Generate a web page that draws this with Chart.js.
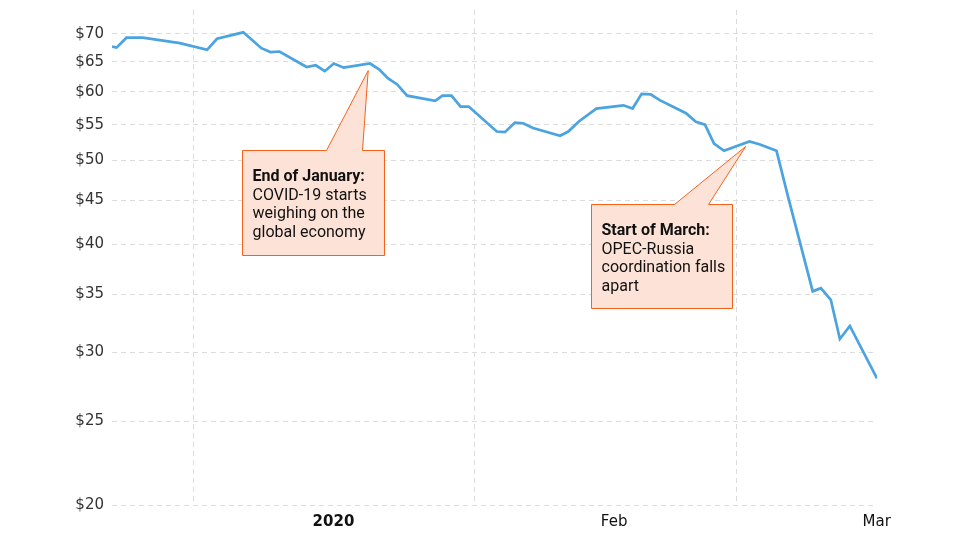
<!DOCTYPE html>
<html>
<head>
<meta charset="utf-8">
<script src="https://cdn.jsdelivr.net/npm/chart.js@4/dist/chart.umd.min.js"></script>
<style>
body { margin: 0; background: #fff; }
canvas { display: block; }
</style>
</head>
<body>
<canvas id="grafico" width="960" height="540"></canvas>
<script>
// ======================================
// Data (days since 1 Jan 2020, price in $)
// ======================================

const days = [
-9.0, -8.5, -7.4, -5.6, -1.5, 1.5, 2.6, 5.5, 7.5, 8.5,
9.5, 12.5, 13.5, 14.5, 15.5, 16.6, 19.5, 20.5, 21.5, 22.5,
23.6, 26.7, 27.5, 28.5, 29.5, 30.4, 33.5, 34.4, 35.5, 36.4,
37.5, 40.5, 41.4, 42.6, 44.5, 47.5, 48.5, 49.5, 50.5, 51.5,
54.4, 55.5, 56.5, 57.5, 58.6, 61.4, 62.5, 64.4, 65.7, 68.4,
69.3, 70.4, 71.4, 72.5, 75.5
];

const prices = [
67.7, 67.5, 69.3, 69.3, 68.3, 67.1, 69.1, 70.3, 67.4, 66.7,
66.8, 64.1, 64.4, 63.4, 64.7, 64.0, 64.7, 63.7, 62.2, 61.2,
59.4, 58.6, 59.4, 59.4, 57.7, 57.7, 54.0, 53.9, 55.3, 55.2,
54.5, 53.4, 54.0, 55.5, 57.4, 57.9, 57.4, 59.7, 59.6, 58.7,
56.7, 55.4, 55.0, 52.3, 51.3, 52.6, 52.2, 51.3, 45.3, 35.3,
35.6, 34.5, 31.1, 32.2, 28.0
];

const monthStarts = [0, 31, 60];
const monthLabels = ["2020", "Feb", "Mar"];

const priceTicks = [20, 25, 30, 35, 40, 45, 50, 55, 60, 65, 70];

// callouts: where the pointer touches the line
const notes = [
{
    x: 19.3, y: 63.5,
    title: "End of January:",
    lines: ["COVID-19 starts", "weighing on the", "global economy"],
    box: { dx: -126, dy: 79, w: 142, h: 105, baseL: 84, baseR: 120 }
},
{
    x: 61.0, y: 51.9,
    title: "Start of March:",
    lines: ["OPEC-Russia", "coordination falls", "apart"],
    box: { dx: -155, dy: 58, w: 141, h: 104, baseL: 83, baseR: 117 }
}
];


// ======================================
// Callout plugin
// ======================================

const callouts = {
    id: "callouts",
    afterDatasetsDraw(chart) {
        const ctx = chart.ctx;
        const xs = chart.scales.x;
        const ys = chart.scales.y;

        notes.forEach(n => {
            const tx = xs.getPixelForValue(n.x);
            const ty = ys.getPixelForValue(n.y);
            const b = n.box;
            const left = Math.round(tx + b.dx) + 0.5;
            const top = Math.round(ty + b.dy) + 0.5;

            ctx.save();
            ctx.beginPath();
            ctx.moveTo(left, top);
            ctx.lineTo(left + b.baseL, top);
            ctx.lineTo(tx, ty);
            ctx.lineTo(left + b.baseR, top);
            ctx.lineTo(left + b.w, top);
            ctx.lineTo(left + b.w, top + b.h);
            ctx.lineTo(left, top + b.h);
            ctx.closePath();
            ctx.fillStyle = "#fde3d7";
            ctx.fill();
            ctx.strokeStyle = "#f4621c";
            ctx.lineWidth = 1;
            ctx.stroke();

            ctx.fillStyle = "#111";
            ctx.textBaseline = "alphabetic";
            ctx.textAlign = "left";
            let ly = top + 30.5;
            ctx.font = "bold 16px Roboto";
            ctx.fillText(n.title, left + 10, ly);
            ctx.font = "16px Roboto";
            n.lines.forEach(l => {
                ly += 18.7;
                ctx.fillText(l, left + 10, ly);
            });
            ctx.restore();
        });
    }
};


// ======================================
// Chart
// ======================================

const points = days.map((d, i) => ({ x: d, y: prices[i] }));

new Chart(document.getElementById("grafico"), {

type: "line",

data: {
    datasets: [{
        label: "Price",
        data: points,
        borderColor: "#4ba3e0",
        borderWidth: 2.7,
        pointRadius: 0,
        tension: 0,
        fill: false
    }]
},

options: {
    responsive: false,
    animation: false,
    layout: { padding: { top: 10, right: 83, left: 0, bottom: 0 } },
    plugins: {
        legend: { display: false },
        tooltip: { enabled: false }
    },
    scales: {
        x: {
            type: "linear",
            min: -9,
            max: 75.5,
            afterBuildTicks: axis => {
                axis.ticks = monthStarts.map(v => ({ value: v }));
            },
            afterFit: axis => {
                axis.height = 35;
                axis.paddingLeft = 0;
                axis.paddingRight = 0;
            },
            border: { display: false, dash: [5, 4] },
            grid: {
                color: "#dcdcdc",
                lineWidth: 1,
                drawTicks: false
            },
            ticks: {
                autoSkip: false,
                maxRotation: 0,
                padding: 8,
                labelOffset: 140,
                color: "#111",
                font: c => ({
                    family: "DejaVu Sans",
                    size: 15,
                    weight: c.index === 0 ? "bold" : "normal"
                }),
                callback: (v, i) => monthLabels[i]
            }
        },
        y: {
            type: "logarithmic",
            min: 20,
            max: 74.6,
            afterBuildTicks: axis => {
                axis.ticks = priceTicks.map(v => ({ value: v }));
            },
            afterFit: axis => {
                axis.width = 112;
                axis.paddingTop = 0;
                axis.paddingBottom = 0;
            },
            border: { display: false, dash: [5, 4] },
            grid: {
                color: "#dcdcdc",
                lineWidth: 1,
                drawTicks: false
            },
            ticks: {
                padding: 8,
                color: "#333",
                font: { family: "DejaVu Sans", size: 15 },
                callback: v => "$" + v
            }
        }
    }
},

plugins: [callouts]

});
</script>
</body>
</html>
